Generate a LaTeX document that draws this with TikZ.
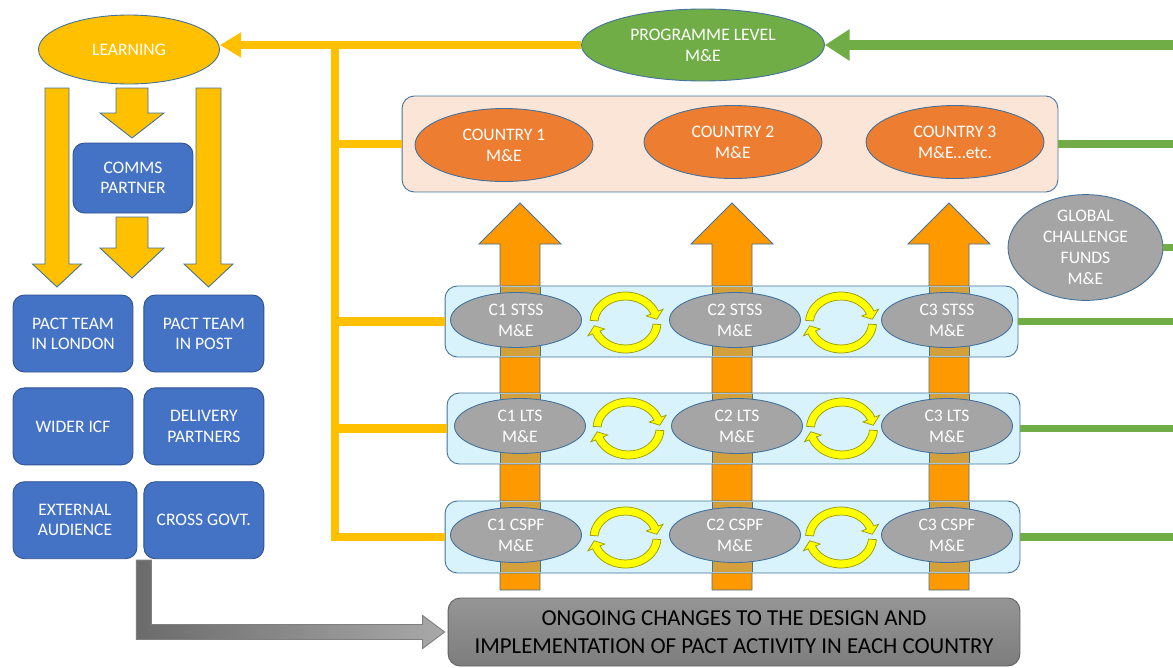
\documentclass[tikz,border=0pt]{standalone}
\usepackage{fontspec}
\setmainfont{Carlito}
\usepackage{xcolor}
\usetikzlibrary{arrows.meta,positioning,calc,shapes.geometric}

\definecolor{gold}{HTML}{FFC000}
\definecolor{ovaledge}{HTML}{41719C}
\definecolor{pactblue}{HTML}{4472C4}
\definecolor{boxedge}{HTML}{2F528F}
\definecolor{megreen}{HTML}{70AD47}
\definecolor{countryorange}{HTML}{ED7D31}
\definecolor{peach}{HTML}{FBE5D6}
\definecolor{bandblue}{HTML}{D9F3FD}
\definecolor{megray}{HTML}{A5A5A5}
\definecolor{shaftorange}{HTML}{FF9900}
\definecolor{shaftmix}{HTML}{D4A03C}
\definecolor{cycleyellow}{HTML}{FFFF00}
\definecolor{cycleedge}{HTML}{999900}
\definecolor{elbowdark}{HTML}{6B6B6B}
\definecolor{elbowlight}{HTML}{A9A9A9}
\definecolor{elbowedge}{HTML}{7F7F7F}
\definecolor{changetop}{HTML}{959595}
\definecolor{changebottom}{HTML}{7D7D7D}
\definecolor{changeedge}{HTML}{5F5F5F}

\tikzset{
  meoval/.style={ellipse, draw=ovaledge, line width=0.5pt, text=white, align=center,
                 inner sep=0pt, font=\fontsize{10}{12}\selectfont},
  rowoval/.style={meoval, fill=megray, minimum width=2.62cm, minimum height=1.1cm},
  countryoval/.style={meoval, fill=countryorange, minimum width=3.56cm, minimum height=1.46cm},
  teambox/.style={draw=boxedge, line width=0.5pt, fill=pactblue, rounded corners=6.5pt,
                  text=white, align=center, inner sep=0pt, minimum width=2.4cm,
                  minimum height=1.54cm, font=\fontsize{10}{11.5}\selectfont},
  rowband/.style={draw=ovaledge, line width=0.5pt, fill=bandblue, rounded corners=7pt,
                  minimum width=11.46cm, minimum height=1.42cm},
  feed/.style={draw=gold, line width=5pt},
  report/.style={draw=megreen, line width=4pt},
  block/.style={fill=gold, draw=ovaledge, line width=0.5pt},
  uparrow/.style={fill=shaftorange, draw=ovaledge, line width=0.5pt},
  cycle arrow/.style={fill=cycleyellow, draw=cycleedge, line width=0.4pt},
  elbow/.style={left color=elbowdark, right color=elbowlight, draw=elbowedge, line width=0.5pt}
}

% block arrow: style, x, start y, head base y, tip y, half shaft, half head
\newcommand{\blockarrow}[7]{%
  \filldraw[#1] ({#2-#6},#3) -- ({#2-#6},#4) -- ({#2-#7},#4) -- (#2,#5)
    -- ({#2+#7},#4) -- ({#2+#6},#4) -- ({#2+#6},#3) -- cycle;}

% pair of turning arrows between two ovals
\newcommand{\cyclearrows}[1]{%
  \foreach \turn in {0,180}
    \filldraw[cycle arrow, shift={(#1)}, yscale=-1, rotate=\turn]
      (176:35.5 and 30.5) arc[start angle=176, end angle=22, x radius=35.5, y radius=30.5]
      -- (22:40.5 and 35.5) -- (7:31.5 and 26.5) -- (22:22.5 and 17.5) -- (22:27.5 and 22.5)
      arc[start angle=22, end angle=176, x radius=27.5, y radius=22.5] -- cycle;}

\begin{document}
\begin{tikzpicture}[x=0.02cm, y=-0.02cm]
  \useasboundingbox (0,0) rectangle (1173,667);

  % Country arrows, behind the bands
  \foreach \sx in {520,732,949} {\blockarrow{uparrow}{\sx}{590}{244}{203}{20}{41}}

  % Bands of the three strands
  \node(stss)[rowband] at (731.5,321.5) {};
  \node(lts)[rowband] at (733.5,428.5) {};
  \node(cspf)[rowband, minimum width=11.5cm, minimum height=1.44cm] at (732.5,537) {};
  % arrows seen through the bands
  \foreach \t/\b in {287/356,394/463,502/572}
    \foreach \sx in {520,732,949} {
      \fill[shaftmix] ({\sx-20},\t) rectangle ({\sx+20},\b);
      \draw[ovaledge, line width=0.5pt] ({\sx-20},\t) -- ({\sx-20},\b) ({\sx+20},\t) -- ({\sx+20},\b);
    }

  % Strand ovals
  \node(c1stss)[rowoval] at (516,320) {C1 STSS\\M\&E};
  \node(c2stss)[rowoval] at (735,320) {C2 STSS\\M\&E};
  \node(c3stss)[rowoval] at (947,320) {C3 STSS\\M\&E};
  \node(c1lts)[rowoval] at (520,426) {C1 LTS\\M\&E};
  \node(c2lts)[rowoval] at (737,426) {C2 LTS\\M\&E};
  \node(c3lts)[rowoval] at (947,426) {C3 LTS\\M\&E};
  \node(c1cspf)[rowoval] at (516,535) {C1 CSPF\\M\&E};
  \node(c2cspf)[rowoval] at (735,535) {C2 CSPF\\M\&E};
  \node(c3cspf)[rowoval] at (947,535) {C3 CSPF\\M\&E};
  \foreach \row in {stss,lts,cspf} {
    \cyclearrows{$(c1\row)!0.5!(c2\row)+(0,2.5)$}
    \cyclearrows{$(c2\row)!0.5!(c3\row)+(0,2.5)$}
  }

  % Country level
  \node(countries)[rowband, fill=peach, minimum width=13.12cm, minimum height=1.92cm] at (730,144) {};
  \node(country1)[countryoval] at (504,145) {COUNTRY 1\\M\&E};
  \node(country2)[countryoval] at (733,142) {COUNTRY 2\\M\&E};
  \node(country3)[countryoval] at (955,142) {COUNTRY 3\\M\&E\textellipsis{}etc.};

  % Programme level and global funds
  \node(programme)[meoval, fill=megreen, minimum width=4.86cm, minimum height=1.44cm] at (703,45) {PROGRAMME LEVEL\\M\&E};
  \node(global)[meoval, fill=megray, minimum width=3.1cm, minimum height=1.82cm] at (1085.5,247.5) {GLOBAL\\CHALLENGE\\FUNDS\\M\&E};

  % Learning and audiences
  \node(learning)[meoval, fill=gold, minimum width=3.62cm, minimum height=1.38cm] at (129,49.5) {LEARNING};
  \node(comms)[teambox, minimum height=1.4cm] at (133,178) {COMMS\\PARTNER};
  \node(london)[teambox] at (73,333.5) {PACT TEAM\\IN LONDON};
  \node(post)[teambox, right=0.2cm of london] {PACT TEAM\\IN POST};
  \node(wider)[teambox, below=0.3cm of london] {WIDER ICF};
  \node(delivery)[teambox, right=0.2cm of wider] {DELIVERY\\PARTNERS};
  \node(external)[teambox, minimum width=2.48cm, below right=0.32cm and 0cm of wider.south west] {EXTERNAL\\AUDIENCE};
  \node(crossgovt)[teambox, below=0.32cm of delivery] {CROSS GOVT.};

  % Learning arrows
  \blockarrow{block}{57}{88}{264}{287}{12}{24.5}
  \blockarrow{block}{132}{88}{113}{138}{16}{32}
  \blockarrow{block}{132}{217}{248}{278}{16}{32}
  \blockarrow{block}{208.5}{88}{264}{287}{12.5}{24.5}

  % Yellow feed lines
  \draw[feed, arrows=-{Triangle[length=12pt, width=13.5pt]}] (programme.west) -- (programme.west -| learning.east);
  \coordinate (trunk) at (335,45);
  \draw[feed] (trunk) -- (trunk |- cspf.west) -- (cspf.west);
  \foreach \band in {countries,stss,lts}
    \draw[feed] (trunk |- \band.west) -- (\band.west);

  % Green report lines
  \coordinate (rim) at (1173,0);
  \draw[report, line width=5.2pt, arrows=-{Triangle[length=14pt, width=17pt]}] (rim |- programme.east) -- (programme.east);
  \foreach \band in {countries,global,stss,lts,cspf}
    \draw[report] (\band.east) -- (\band.east -| rim);

  % Changes box
  \node(changes)[draw=changeedge, line width=0.5pt, top color=changetop, bottom color=changebottom,
                 rounded corners=7pt, minimum width=11.44cm, minimum height=1.36cm, align=center,
                 inner sep=0pt, font=\fontsize{13}{16}\selectfont] at (734,632)
                 {ONGOING CHANGES TO THE DESIGN AND\\IMPLEMENTATION OF PACT ACTIVITY IN EACH COUNTRY};

  % Feedback elbow arrow
  \coordinate (elbowstart) at ($(external.south east)+(6.5,1)$);
  \shadedraw[elbow] (elbowstart) ++(-7.5,0) |- ($(changes.west)+(-25,7.5)$) -- ++(0,9)
    -- ($(changes.west)+(-3,0)$) -- ($(changes.west)+(-25,-16.5)$) -- ++(0,9)
    -| ($(elbowstart)+(7.5,0)$) -- cycle;
\end{tikzpicture}
\end{document}
